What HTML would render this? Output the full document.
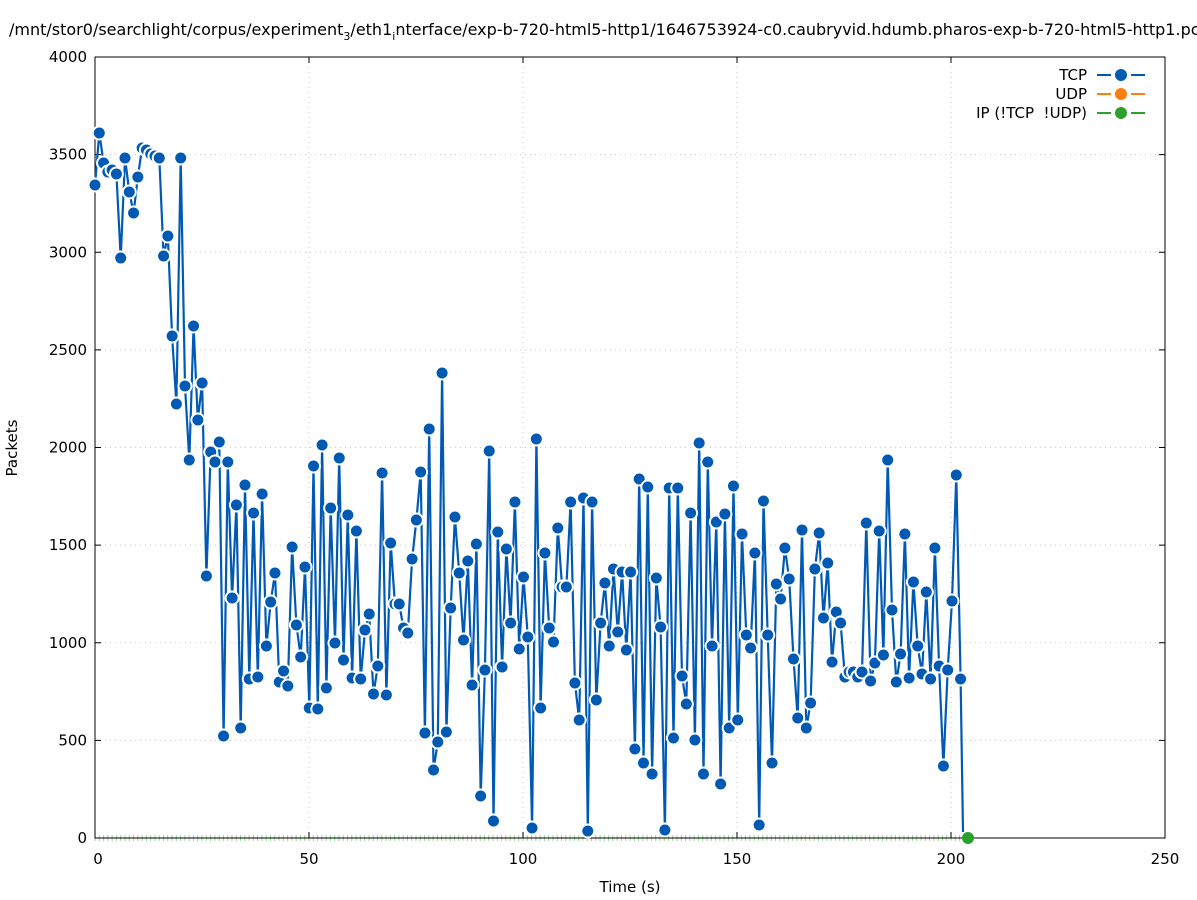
<!DOCTYPE html>
<html><head><meta charset="utf-8"><style>
html,body{margin:0;padding:0;background:#fff;}
svg{display:block;font-family:"DejaVu Sans","Liberation Sans",sans-serif;}
</style></head><body>
<svg id="s" width="1197" height="900" viewBox="0 0 1197 900" xmlns="http://www.w3.org/2000/svg">
<rect width="1197" height="900" fill="#fff"/>
<text x="9" y="35" font-size="16">/mnt/stor0/searchlight/corpus/experiment<tspan font-size="11" dy="5">3</tspan><tspan dy="-5">/eth1</tspan><tspan font-size="11" dy="5">i</tspan><tspan dy="-5">nterface/exp-b-720-html5-http1/1646753924-c0.caubryvid.hdumb.pharos-exp-b-720-html5-http1.pcap</tspan></text>
<g id="grid" stroke="#c8c8c8" stroke-width="1" stroke-dasharray="1,4"></g>
<g id="green"></g>
<g id="axes" stroke="#000" stroke-width="1" fill="none"></g>
<g id="labels" font-size="15" fill="#000"></g>
<text x="17" y="448" font-size="15" transform="rotate(-90 17 448)" text-anchor="middle">Packets</text>
<text x="630" y="892" font-size="15" text-anchor="middle">Time (s)</text>
<g id="data"></g>
<g font-size="15" text-anchor="end" style="white-space:pre">
<text x="1087" y="80">TCP</text>
<text x="1087" y="99">UDP</text>
<text x="1087" y="118" xml:space="preserve">IP (!TCP&#160;&#160;!UDP)</text>
</g>
<g stroke-width="2">
<line x1="1097" y1="75" x2="1145" y2="75" stroke="#005ab4" stroke-dasharray="14,6,8,6,14"/>
<line x1="1097" y1="94" x2="1145" y2="94" stroke="#ff7f0e" stroke-dasharray="14,6,8,6,14"/>
<line x1="1097" y1="113" x2="1145" y2="113" stroke="#2ca02c" stroke-dasharray="14,6,8,6,14"/>
</g>
<circle cx="1121" cy="75" r="6" fill="#005ab4"/>
<circle cx="1121" cy="94" r="6" fill="#ff7f0e"/>
<circle cx="1121" cy="113" r="6" fill="#2ca02c"/>
</svg>
<script>
var NS="http://www.w3.org/2000/svg";
function el(p,t,a){var e=document.createElementNS(NS,t);for(var k in a)e.setAttribute(k,a[k]);p.appendChild(e);return e;}
var L=95,R=1165,T=57,B=838;
var g=document.getElementById('grid'),ax=document.getElementById('axes'),lb=document.getElementById('labels');
for(var i=0;i<=8;i++){var y=B-(B-T)*i/8;
 if(i>0&&i<8)el(g,'line',{x1:L,y1:y,x2:R,y2:y});
 el(ax,'line',{x1:L,y1:y,x2:L+6,y2:y});el(ax,'line',{x1:R,y1:y,x2:R-6,y2:y});
 var t=el(lb,'text',{x:87,y:y+5,'text-anchor':'end'});t.textContent=String(i*500);}
for(var i=0;i<=5;i++){var x=L+(R-L)*i/5;
 if(i>0&&i<5)el(g,'line',{x1:x,y1:T,x2:x,y2:B});
 el(ax,'line',{x1:x,y1:B,x2:x,y2:B-6});el(ax,'line',{x1:x,y1:T,x2:x,y2:T+6});
 var t=el(lb,'text',{x:x+(i==0?3:0),y:864,'text-anchor':'middle'});t.textContent=String(i*50);}
el(ax,'rect',{x:L,y:T,width:R-L,height:B-T});
var gr=document.getElementById('green');
for(var k=0;k<=203;k++){var x=L+k*4.28;el(gr,'line',{x1:x,y1:835,x2:x,y2:841,stroke:'#2ca02c','stroke-width':1,opacity:0.45});}
var ys=[185,133,163,172,170,174,258,158,192,213,177,148,150,154,156,158,256,236,336,404,158,386,460,326,420,383,576,452,462,442,736,462,598,505,728,485,679,513,677,494,646,602,573,682,671,686,547,625,657,567,708,466,709,445,688,508,643,458,660,515,678,531,679,630,614,694,666,473,695,543,604,604,628,633,559,520,472,733,429,770,742,373,732,608,517,573,640,561,685,544,796,670,451,821,532,667,549,623,502,649,577,637,828,439,708,553,628,642,528,587,587,502,683,720,498,831,502,700,623,583,646,569,632,572,650,572,749,479,763,487,774,578,627,830,488,738,488,676,704,513,740,443,774,462,646,522,784,514,728,486,720,534,635,648,553,825,501,635,763,584,599,548,579,659,718,530,728,703,569,533,618,563,662,612,623,677,672,672,677,672,523,681,663,531,655,460,610,682,654,534,678,582,646,674,592,679,548,666,766,670,601,475,679];
var d=document.getElementById('data'),pts=[];
for(var k=0;k<ys.length;k++)pts.push([L+k*4.285,ys[k]]);
var path=pts.map(function(p){return p[0].toFixed(1)+','+p[1];}).join(' ')+' 963,832';
el(d,'polyline',{points:path,fill:'none',stroke:'#005ab4','stroke-width':2.2,'stroke-linejoin':'round'});
pts.forEach(function(p){el(d,'circle',{cx:p[0],cy:p[1],r:6.5,fill:'#005ab4',stroke:'#fff','stroke-width':2});});
el(d,'circle',{cx:968,cy:838,r:6,fill:'#2ca02c'});
</script>
</body></html>
